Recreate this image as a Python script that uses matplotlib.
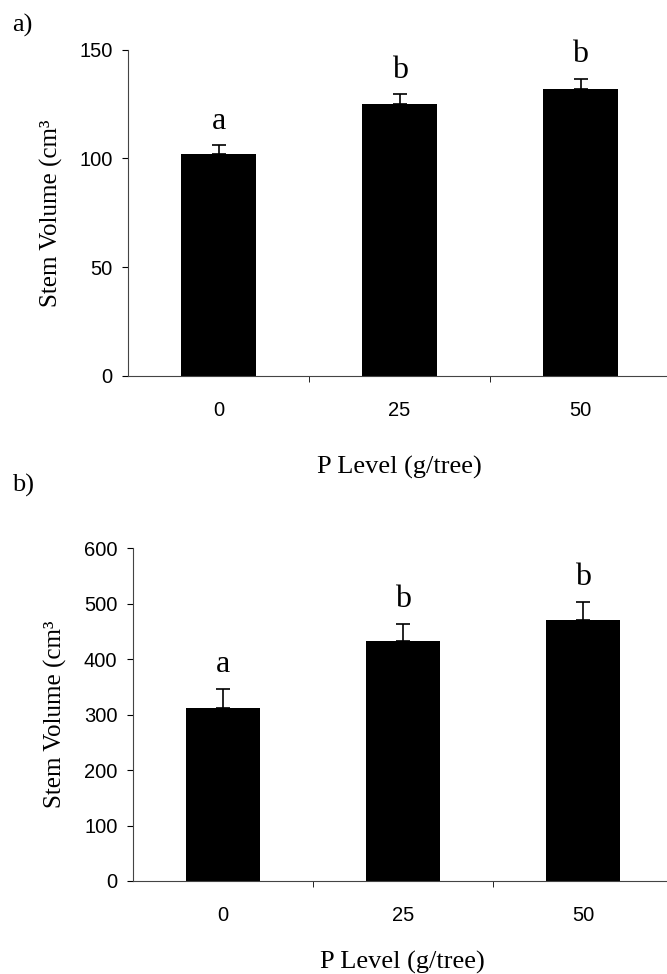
import numpy as np
import matplotlib.pyplot as plt

niveles = ["0", "25", "50"]
vol_a = [102, 125, 132]
err_a = [4, 4.5, 4.5]
letras_a = ["a", "b", "b"]
vol_b = [312, 432, 470]
err_b = [35, 32, 33]
letras_b = ["a", "b", "b"]

serif = "Liberation Serif"
sans = "Liberation Sans"

fig = plt.figure(figsize=(6.67, 9.74), dpi=100)

def panel(rect, valores, errores, letras, ymax, paso, etiqueta, y_etiq, pad_lab):
    ax = fig.add_axes(rect)
    x = np.arange(len(niveles))
    ax.bar(x, valores, width=0.41, color="black")
    ax.errorbar(x, valores, yerr=[np.zeros(len(errores)), errores], fmt="none",
                ecolor="black", elinewidth=1.2, capsize=5, capthick=1.2)
    for xi, v, e, l in zip(x, valores, errores, letras):
        ax.annotate(l, (xi, v + e), xytext=(0, 7), textcoords="offset points",
                    ha="center", va="bottom", fontsize=23, family=serif)
    ax.set_xlim(-0.5, 2.5)
    ax.set_ylim(0, ymax)
    ax.set_yticks(np.arange(0, ymax + 1, paso))
    ax.set_xticks(x)
    ax.set_xticklabels(niveles)
    ax.set_xticks([0.5, 1.5], minor=True)
    ax.tick_params(axis="x", which="major", length=0, pad=18)
    ax.tick_params(axis="x", which="minor", length=4, direction="out")
    ax.tick_params(axis="y", length=4, direction="out", pad=7)
    for t in ax.get_xticklabels() + ax.get_yticklabels():
        t.set_fontfamily(sans)
        t.set_fontsize(14.5)
    for s in ["top", "right"]:
        ax.spines[s].set_visible(False)
    ax.spines["left"].set_color("#444444")
    ax.spines["bottom"].set_color("#444444")
    ax.set_ylabel("Stem Volume (cm³", fontsize=18, family=serif, labelpad=12)
    ax.set_xlabel("P Level (g/tree)", fontsize=19, family=serif, labelpad=pad_lab)
    fig.text(0.018, y_etiq, etiqueta, fontsize=19, family=serif, va="center")
    return ax

panel([0.192, 0.614, 0.814, 0.335], vol_a, err_a, letras_a, 150, 50, "a)", 0.974, 26)
panel([0.199, 0.0955, 0.81, 0.3415], vol_b, err_b, letras_b, 600, 100, "b)", 0.502, 19)

fig.savefig("out.png", dpi=100)
